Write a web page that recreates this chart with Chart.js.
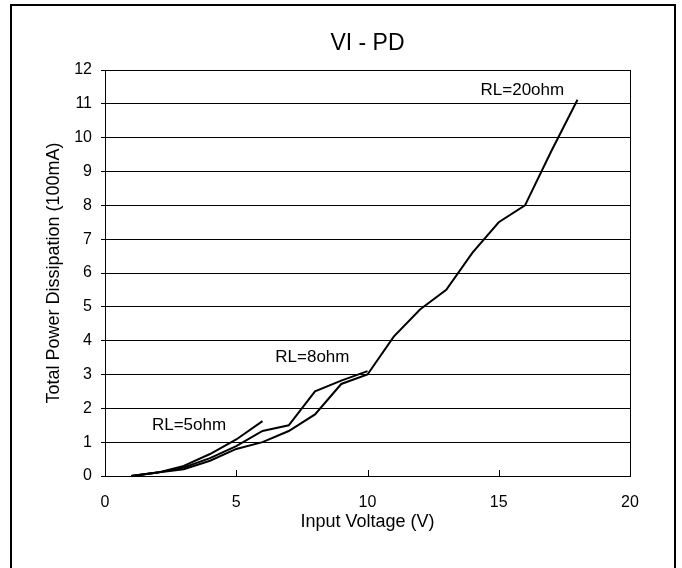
<!DOCTYPE html>
<html>
<head>
<meta charset="utf-8">
<title>VI - PD</title>
<script src="https://cdn.jsdelivr.net/npm/chart.js@4.4.1/dist/chart.umd.min.js"></script>
<style>
  html, body { margin: 0; padding: 0; background: #fff; }
  #wrap { width: 682px; height: 568px; }
</style>
</head>
<body>
<div id="wrap"><canvas id="chart" width="682" height="568"></canvas></div>
<script>
// Input voltage steps (V) for each load
const vin5 = [1, 2, 3, 4, 5, 6];
const vin8 = [1, 2, 3, 4, 5, 6, 7, 8, 9, 10];
const vin20 = [1, 2, 3, 4, 5, 6, 7, 8, 9, 10, 11, 12, 13, 14, 15, 16, 17, 18];

// Total power dissipation (100mA)
const pd5 = [0, 0.1, 0.3, 0.65, 1.08, 1.62];
const pd8 = [0, 0.1, 0.25, 0.53, 0.88, 1.33, 1.5, 2.5, 2.82, 3.1];
const pd20 = [0, 0.1, 0.2, 0.45, 0.8, 1.0, 1.33, 1.82, 2.72, 3.0, 4.12, 4.92, 5.5, 6.6, 7.5, 8.0, 9.6, 11.12];

const seriesNames = ['RL=5ohm', 'RL=8ohm', 'RL=20ohm'];

// where the RL labels sit, in data units (V, 100mA)
const labelX = [3.2, 7.9, 15.9];
const labelY = [1.5, 3.5, 11.4];

const FONT = "'Liberation Sans', Arial, sans-serif";

function toPoints(xs, ys) {
    return xs.map((x, i) => ({ x: x, y: ys[i] }));
}

// White background, outer frame, plot border, inner x ticks and curve labels
const decorPlugin = {
    id: 'decor',
    beforeDraw(chart) {
        const ctx = chart.ctx;
        ctx.save();
        ctx.fillStyle = '#fff';
        ctx.fillRect(0, 0, chart.width, chart.height);
        ctx.strokeStyle = '#000';
        ctx.lineWidth = 2;
        ctx.beginPath();
        ctx.moveTo(11, chart.height);
        ctx.lineTo(11, 5);
        ctx.lineTo(675, 5);
        ctx.lineTo(675, chart.height);
        ctx.stroke();
        ctx.restore();
    },
    afterDraw(chart) {
        const ctx = chart.ctx;
        const area = chart.chartArea;
        const xScale = chart.scales.x;
        const yScale = chart.scales.y;
        ctx.save();
        ctx.strokeStyle = '#000';
        ctx.lineWidth = 1;
        // right edge of the plot box
        ctx.beginPath();
        ctx.moveTo(Math.round(area.right) + 0.5, area.top);
        ctx.lineTo(Math.round(area.right) + 0.5, area.bottom);
        ctx.stroke();
        // small ticks pointing into the plot
        xScale.ticks.forEach(t => {
            const px = Math.round(xScale.getPixelForValue(t.value)) + 0.5;
            ctx.beginPath();
            ctx.moveTo(px, area.bottom);
            ctx.lineTo(px, area.bottom - 6);
            ctx.stroke();
        });
        // curve labels
        ctx.fillStyle = '#000';
        ctx.font = '17px ' + FONT;
        ctx.textAlign = 'center';
        ctx.textBaseline = 'middle';
        seriesNames.forEach((name, i) => {
            ctx.fillText(name, xScale.getPixelForValue(labelX[i]), yScale.getPixelForValue(labelY[i]));
        });
        ctx.restore();
    }
};

Chart.defaults.color = '#000';
Chart.defaults.font.family = FONT;

const lineStyle = {
    borderColor: '#000',
    borderWidth: 2,
    pointRadius: 0,
    tension: 0,
    fill: false
};

new Chart(document.getElementById('chart'), {
    type: 'line',
    data: {
        datasets: [
            { label: seriesNames[0], data: toPoints(vin5, pd5), ...lineStyle },
            { label: seriesNames[1], data: toPoints(vin8, pd8), ...lineStyle },
            { label: seriesNames[2], data: toPoints(vin20, pd20), ...lineStyle }
        ]
    },
    options: {
        responsive: false,
        animation: false,
        layout: { padding: { left: 0, right: 52, top: 0, bottom: 0 } },
        plugins: {
            legend: { display: false },
            tooltip: { enabled: false },
            title: {
                display: true,
                text: 'VI - PD',
                fullSize: false,
                font: { size: 23, weight: 'normal' },
                padding: { top: 30, bottom: 12.4 }
            }
        },
        scales: {
            x: {
                type: 'linear',
                min: 0,
                max: 20,
                ticks: { stepSize: 5, padding: 17, font: { size: 16 } },
                grid: { drawOnChartArea: false, drawTicks: false },
                border: { display: true, color: '#000', width: 1 },
                title: {
                    display: true,
                    text: 'Input Voltage (V)',
                    font: { size: 18 },
                    padding: { top: 0, bottom: 35 }
                },
                afterFit: scale => { scale.height = 92; }
            },
            y: {
                min: 0,
                max: 12,
                ticks: { stepSize: 1, padding: 9, font: { size: 16 } },
                grid: { color: '#000', lineWidth: 1, tickLength: 4 },
                border: { display: true, color: '#000', width: 1 },
                title: {
                    display: true,
                    text: 'Total Power Dissipation (100mA)',
                    font: { size: 18 },
                    padding: { top: 43, bottom: 0 }
                },
                afterFit: scale => { scale.width = 105; }
            }
        }
    },
    plugins: [decorPlugin]
});
</script>
</body>
</html>
